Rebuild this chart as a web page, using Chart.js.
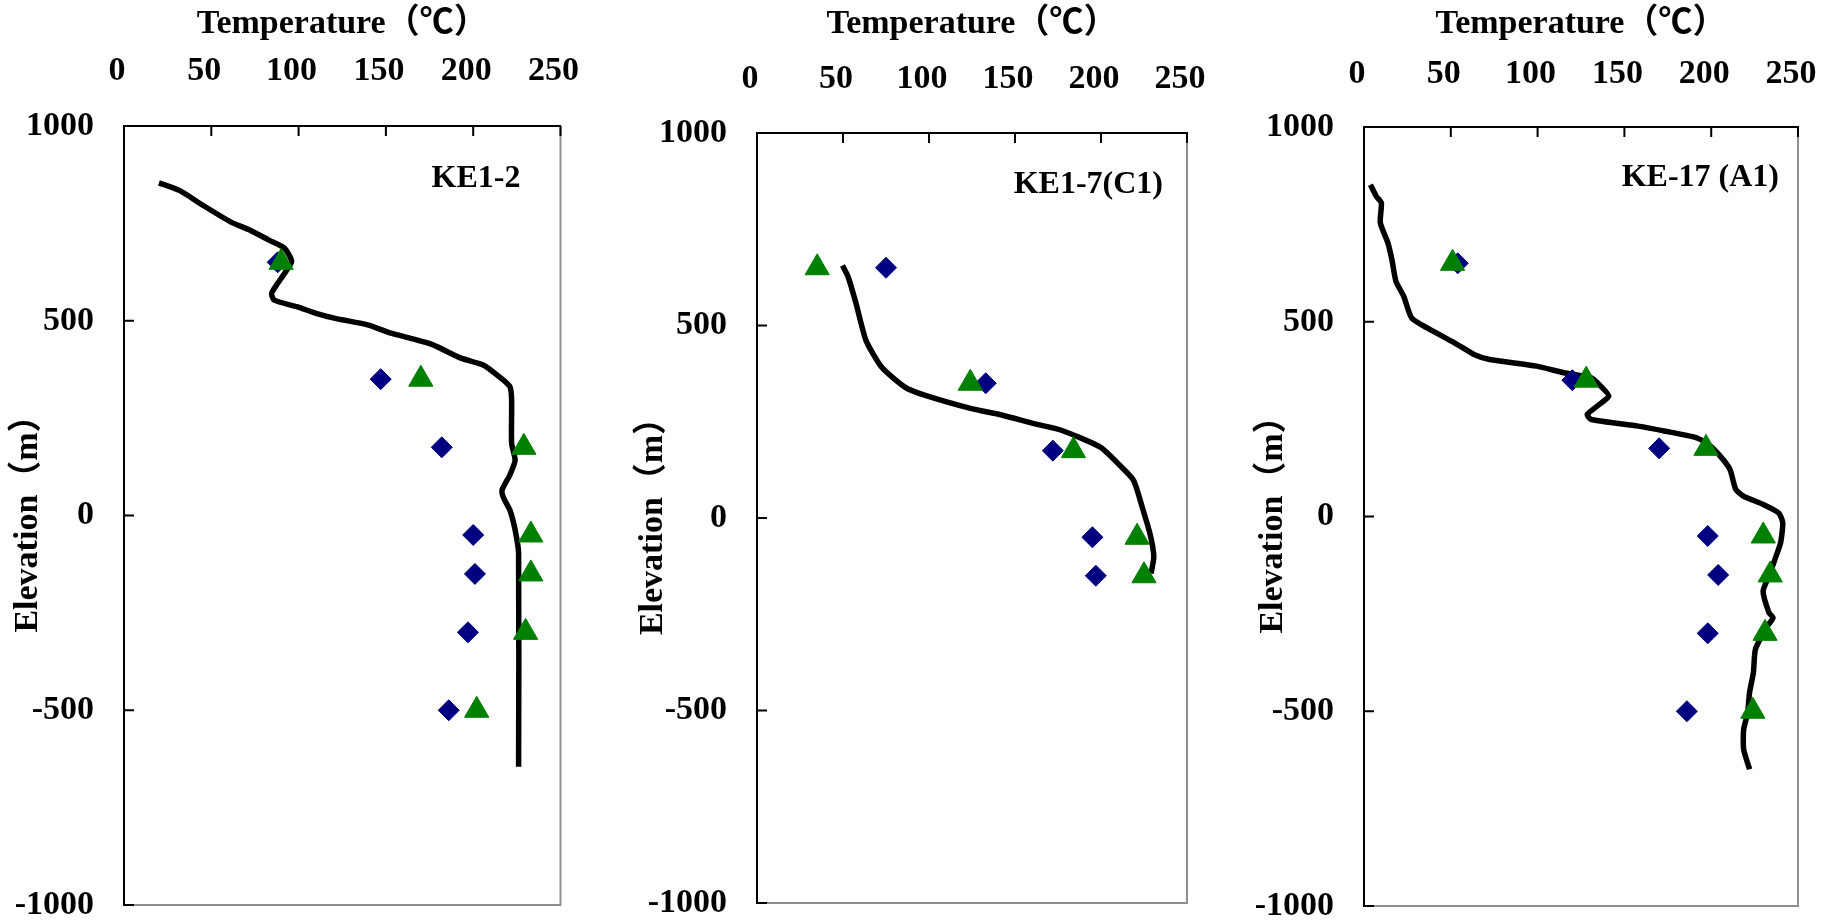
<!DOCTYPE html>
<html><head><meta charset="utf-8">
<script src="https://cdn.jsdelivr.net/npm/chart.js@4.4.1/dist/chart.umd.min.js"></script>
<style>
html,body{margin:0;padding:0;background:#fff;width:1836px;height:921px;overflow:hidden;}
.panel{position:absolute;top:0;width:612px;height:921px;}
</style></head><body>
<div class="panel" style="left:0px"><canvas id="c1" width="612" height="921"></canvas></div>
<div class="panel" style="left:612px"><canvas id="c2" width="612" height="921"></canvas></div>
<div class="panel" style="left:1224px"><canvas id="c3" width="612" height="921"></canvas></div>
<script>
// ---- axis / text ----
const tempTicks = [0, 50, 100, 150, 200, 250];
const elevTicks = [-1000, -500, 0, 500, 1000];
const xTitle = 'Temperature（℃）';
const yTitle = 'Elevation（m）';
const wellNames = ['KE1-2', 'KE1-7(C1)', 'KE-17 (A1)'];

// ---- KE1-2 ----
const ke12CurveTemp = [20,32,45,61,72,83,92,96,92,88,84.5,86,99,110,121,140,153,164,177,193,206,215,221,222,222,224,221,216.5,217.5,221,224,226,226];
const ke12CurveElev = [854,834,797,754,733,707,686,652,622,596,570,553,536,519,506,489,468,455,438,404,386,356,331,297,185,142,104,65,44,14,-37,-97,-645];
const ke12SampleElev = [650, 350, 175, -50, -150, -300, -500];
const ke12DiamondTemp = [88, 147, 182, 200, 201, 197, 186];
const ke12TriangleTemp = [90, 170, 229, 233, 233, 230, 202];

// ---- KE1-7(C1) ----
const ke17CurveTemp = [49.7,53,57.6,63.3,72.4,86,97.4,124.7,142.8,161,176.9,199.6,210.9,218.9,224.5,228.7,230.7,229.1];
const ke17CurveElev = [656,626,557,462,392,340,319,284,267,245,228,184,137,98,20,-45,-101,-144];
const ke17SampleElev = [650, 350, 175, -50, -150];
const ke17DiamondTemp = [75, 133, 172, 195, 197];
const ke17TriangleTemp = [35, 124, 184, 221, 225];

// ---- KE-17 (A1) ----
const a1CurveTemp = [3.7,7.1,10,9.4,13.8,16.1,18.4,22.9,27.4,36.4,52.1,63.4,72.4,99.4,115.1,130.9,136.5,141,134.2,128.6,130.9,157.9,173.6,191.7,198.4,205.2,210.8,214.2,218.7,229.9,238.9,241.2,240,236.7,233.3,229.9,233.3,235.6,232.2,225.5,224.3,222.1,221,218.7,218.7,222.1];
const a1CurveElev = [852,822,805,754,702,659,604,565,510,484,446,416,403,386,369,356,334,309,283,262,249,232,219,202,185,155,121,69,52,31,9,-16,-67,-110,-153,-192,-247,-260,-282,-341,-401,-452,-504,-547,-598,-649];
const a1SampleElev = [650, 350, 175, -50, -150, -300, -500];
const a1DiamondTemp = [54, 120, 170, 198, 204, 198, 186];
const a1TriangleTemp = [51, 128, 197, 230, 234, 231, 224];

const SERIF = "'Liberation Serif','Times New Roman','Noto Sans CJK SC',serif";

const panels = [
  {id:'c1', name:wellNames[0], cT:ke12CurveTemp, cE:ke12CurveElev, dT:ke12DiamondTemp, tT:ke12TriangleTemp, sE:ke12SampleElev,
   area:{left:124, right:560.5, top:126, bottom:905}, xTickPad:34, yTitlePad:8, label:{dx:-40, dy:53}},
  {id:'c2', name:wellNames[1], cT:ke17CurveTemp, cE:ke17CurveElev, dT:ke17DiamondTemp, tT:ke17TriangleTemp, sE:ke17SampleElev,
   area:{left:145, right:575, top:133, bottom:903}, xTickPad:33.5, yTitlePad:21, label:{dx:-24, dy:52}},
  {id:'c3', name:wellNames[2], cT:a1CurveTemp, cE:a1CurveElev, dT:a1DiamondTemp, tT:a1TriangleTemp, sE:a1SampleElev,
   area:{left:140, right:574, top:127, bottom:907}, xTickPad:32, yTitlePad:29, label:{dx:-19, dy:51}}
];

const framePlugin = {
  id: 'frame',
  afterDraw(chart) {
    const {ctx, chartArea: a, scales} = chart;
    const opt = chart.options.plugins.frame;
    ctx.save();
    // gray right/bottom border
    ctx.strokeStyle = '#8f8f8f';
    ctx.lineWidth = 2;
    ctx.beginPath();
    ctx.moveTo(a.right, a.top); ctx.lineTo(a.right, a.bottom); ctx.lineTo(a.left, a.bottom);
    ctx.stroke();
    // inward tick marks
    ctx.strokeStyle = '#000';
    ctx.lineWidth = 2;
    ctx.beginPath();
    scales.x.ticks.forEach(t => { const px = scales.x.getPixelForValue(t.value); ctx.moveTo(px, a.top); ctx.lineTo(px, a.top + 10); });
    scales.y.ticks.forEach(t => { const py = scales.y.getPixelForValue(t.value); ctx.moveTo(a.left, py); ctx.lineTo(a.left + 10, py); });
    ctx.stroke();
    // well label
    ctx.fillStyle = '#000';
    ctx.font = 'bold 32px ' + SERIF;
    ctx.textAlign = 'right';
    ctx.textBaseline = 'middle';
    ctx.fillText(opt.text, a.right + opt.dx, a.top + opt.dy);
    ctx.restore();
  }
};

function pts(xs, ys) { return xs.map((x, i) => ({x: x, y: ys[i]})); }

panels.forEach(p => {
  const W = 612, H = 921;
  new Chart(document.getElementById(p.id), {
    type: 'scatter',
    data: {
      datasets: [
        {label:'triangle', data: pts(p.tT, p.sE), pointStyle:'triangle', pointRadius:14, pointHoverRadius:14,
         backgroundColor:'#008000', borderColor:'#008000', borderWidth:1, order:1},
        {label:'diamond', data: pts(p.dT, p.sE), pointStyle:'rectRot', pointRadius:10.5, pointHoverRadius:10.5,
         backgroundColor:'#000080', borderColor:'#000080', borderWidth:1, order:2},
        {label:'curve', data: pts(p.cT, p.cE), showLine:true, pointRadius:0, borderColor:'#000', borderWidth:5.5,
         tension:0.2, fill:false, order:3}
      ]
    },
    options: {
      responsive: false,
      animation: false,
      events: [],
      layout: {padding: {left:0, top:0, right: W - p.area.right, bottom: H - p.area.bottom}},
      plugins: {
        legend: {display:false},
        tooltip: {enabled:false},
        frame: {text: p.name, dx: p.label.dx, dy: p.label.dy}
      },
      scales: {
        x: {
          type:'linear', position:'top', min:0, max:250,
          afterBuildTicks(s){ s.ticks = tempTicks.map(v => ({value:v})); },
          afterFit(s){ s.height = p.area.top; s.paddingLeft = 0; s.paddingRight = 0; },
          grid:{display:false, drawTicks:false},
          border:{display:true, color:'#000', width:2},
          ticks:{color:'#000', padding:p.xTickPad, labelOffset:-7, maxRotation:0, autoSkip:false,
                 callback: v => String(v),
                 font:{family:SERIF, size:34, weight:'bold'}},
          title:{display:true, text:xTitle, color:'#000', padding:{top:4, bottom:0},
                 font:{family:SERIF, size:34, weight:'bold'}}
        },
        y: {
          type:'linear', position:'left', min:-1000, max:1000,
          afterBuildTicks(s){ s.ticks = elevTicks.map(v => ({value:v})); },
          afterFit(s){ s.width = p.area.left; s.paddingTop = 0; s.paddingBottom = 0; },
          grid:{display:false, drawTicks:false},
          border:{display:true, color:'#000', width:2},
          ticks:{color:'#000', padding:30, autoSkip:false,
                 callback: v => String(v),
                 font:{family:SERIF, size:34, weight:'bold'}},
          title:{display:true, text:yTitle, color:'#000', padding:{top:p.yTitlePad, bottom:0},
                 font:{family:SERIF, size:34, weight:'bold'}}
        }
      }
    },
    plugins: [framePlugin]
  });
});
</script>
</body></html>
